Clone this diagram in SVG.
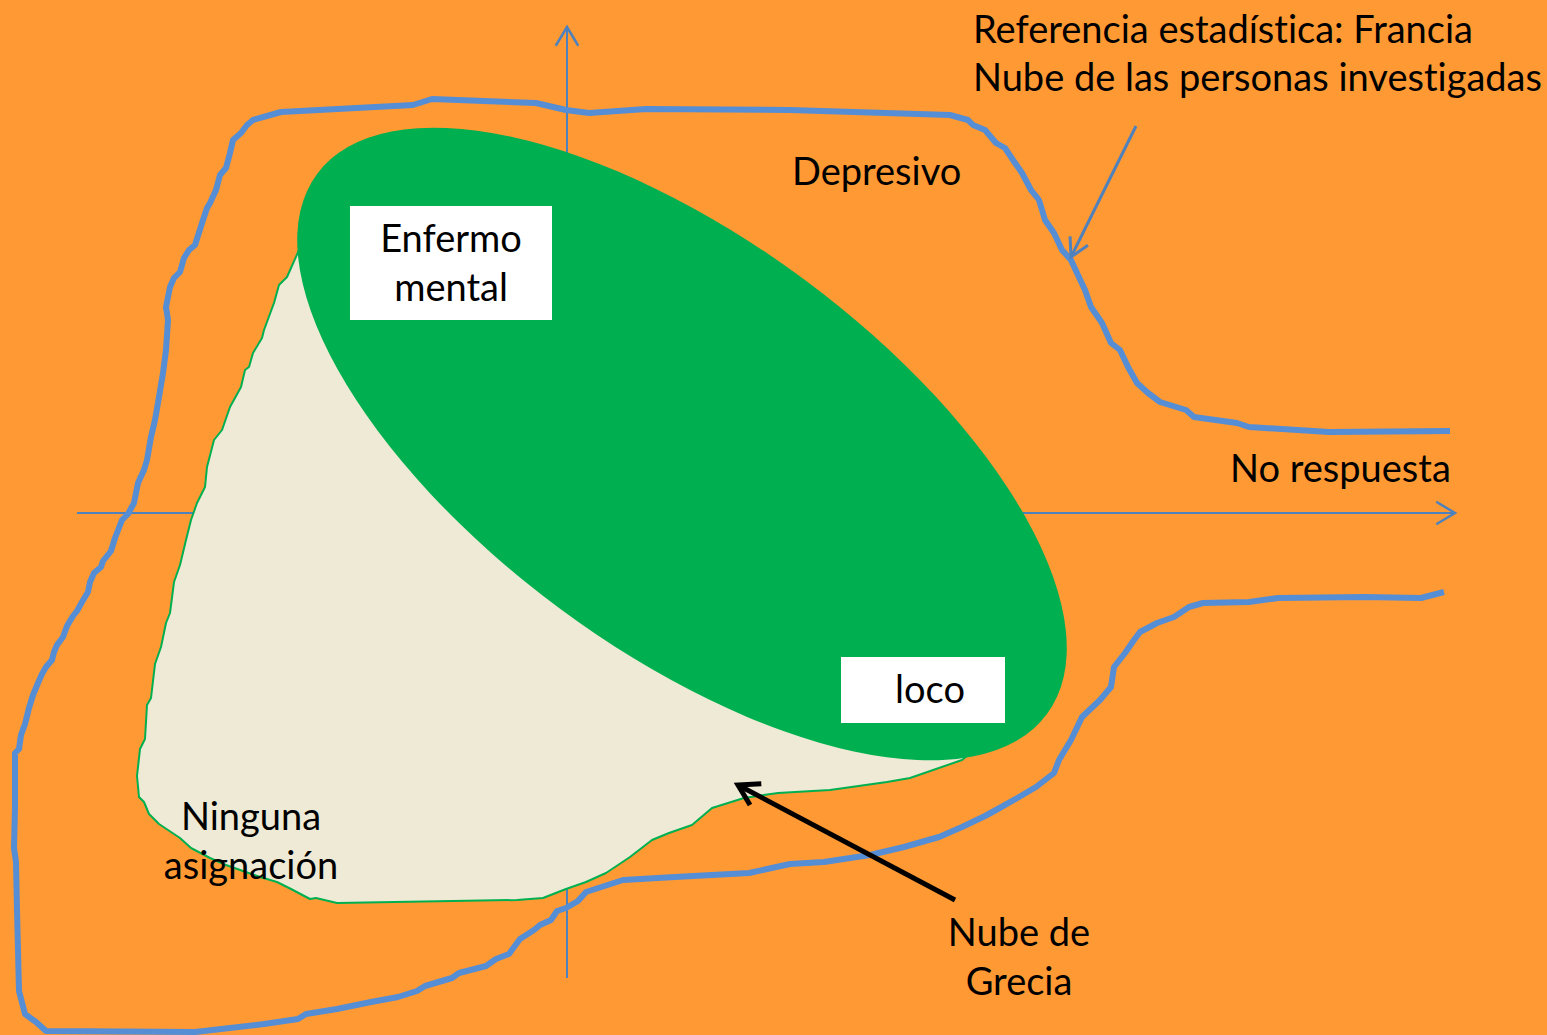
<svg xmlns="http://www.w3.org/2000/svg" width="1547" height="1035" viewBox="0 0 1547 1035">
<defs>
<style>
.lbl{font-family:Lato,"Liberation Sans",Arial,sans-serif;font-size:38px;fill:#000;font-variant-ligatures:none;font-feature-settings:"liga" 0,"clig" 0}
.mid{text-anchor:middle}
.axis{stroke:#4F81BD;stroke-width:2;fill:none}
.box{fill:#FFFFFF}
</style>
<marker id="axHead" markerUnits="userSpaceOnUse" markerWidth="30" markerHeight="30" viewBox="-20 -12 24 24" refX="0" refY="0" orient="auto" overflow="visible">
<path d="M -15,-9 L 0,0 L -15,9" fill="none" stroke="#4F81BD" stroke-width="2"/>
</marker>
<marker id="blkHead" markerUnits="userSpaceOnUse" markerWidth="40" markerHeight="40" viewBox="-30 -20 34 40" refX="0" refY="0" orient="auto" overflow="visible">
<path d="M -20,-12 L 0,0 L -20,12" fill="none" stroke="#000" stroke-width="5"/>
</marker>
<marker id="bluHead" markerUnits="userSpaceOnUse" markerWidth="40" markerHeight="40" viewBox="-30 -20 34 40" refX="0" refY="0" orient="auto" overflow="visible">
<path d="M -18,-10 L 0,0 L -18,10" fill="none" stroke="#4F81BD" stroke-width="3"/>
</marker>
</defs>
<rect x="0" y="0" width="1547" height="1035" fill="#FF9933"/>
<g id="axes">
<line class="axis" x1="77" y1="513" x2="1455" y2="513" marker-end="url(#axHead)"/>
<line class="axis" x1="567" y1="978" x2="567" y2="27" marker-end="url(#axHead)"/>
</g>
<g id="nube-grecia">
<path d="M 299,250 L 287,277 L 279,285 L 274,303 L 264,330 L 262,338 L 253,353 L 249,367 L 245,370 L 241,387 L 230,407 L 222,430 L 214,440 L 207,467 L 205,487 L 197,503 L 191,520 L 186,540 L 180,565 L 174,582 L 170,613 L 166,623 L 161,647 L 155,664 L 151,698 L 147,705 L 145,739 L 140,749 L 137,776 L 139,797 L 144,802 L 149,814 L 159,824 L 180,838 L 191,848 L 210,858 L 226,865 L 260,877 L 277,882 L 291,889 L 310,899 L 316,898 L 337,903 L 517,900 L 543,898 L 566,889 L 586,882 L 606,873 L 630,857 L 652,840 L 669,833 L 692,825 L 712,808 L 744,798 L 778,793 L 830,790 L 887,782 L 910,778 L 962,760 L 968,755 L 900,600 L 400,260 Z" fill="#EEEAD5" stroke="#00B050" stroke-width="2" stroke-linejoin="round"/>
</g>
<g id="enfermo-ellipse">
<ellipse cx="682" cy="444" rx="454" ry="205" transform="rotate(36.5 682 444)" fill="#00B050"/>
</g>
<g id="nube-francia">
<polyline fill="none" stroke="#558ED5" stroke-width="6" stroke-linejoin="round" stroke-linecap="butt" points="1450,431 1329,432 1249,427 1237,423 1194,417 1186,410 1160,402 1148,393 1137,383 1128,367 1120,350 1111,343 1102,323 1091,307 1085,290 1077,273 1071,260 1062,250 1054,233 1045,220 1039,200 1031,190 1022,173 1013,160 1005,148 996,143 985,130 973,125 968,120 950,115 790,110 646,109 589,113 566,110 536,103 432,99 413,105 281,112 253,120 247,125 241,133 233,140 230,153 226,168 220,175 216,190 210,203 207,208 203,220 195,245 189,250 184,258 180,272 174,278 170,287 166,307 168,320 166,350 163,373 159,397 155,420 151,437 147,460 144,470 138,483 134,503 128,514 122,520 115,538 111,551 103,561 101,567 94,573 90,582 88,592 82,602 77,611 73,616 67,626 63,637 57,645 54,652 52,660 46,667 42,674 38,683 33,695 29,708 25,724 21,735 19,749 15,753 15,807 14,848 16,862 17,910 19,991 25,1014 36,1022 46,1031 195,1032 264,1024 298,1019 306,1014 337,1009 371,1002 398,997 417,991 425,986 452,978 459,973 486,966 496,959 509,954 520,939 534,930 540,925 551,920 557,911 566,908 578,901 586,892 623,880 675,877 749,873 790,864 824,862 870,855 904,847 939,837 962,827 985,816 996,810 1019,797 1036,787 1054,773 1059,760 1071,740 1082,717 1100,700 1111,687 1114,667 1125,653 1134,640 1140,632 1157,623 1174,617 1189,607 1203,603 1249,602 1278,598 1364,597 1421,598 1444,592"/>
</g>
<g id="box-enfermo">
<rect class="box" x="350" y="206" width="202" height="114"/>
<text class="lbl mid" x="451" y="252">Enfermo</text>
<text class="lbl mid" x="451" y="301">mental</text>
</g>
<g id="box-loco">
<rect class="box" x="841" y="657" width="164" height="66"/>
<text class="lbl mid" x="930" y="703">loco</text>
</g>
<g id="label-depresivo">
<text class="lbl" x="792" y="185">Depresivo</text>
</g>
<g id="label-referencia">
<text class="lbl" x="973" y="43">Referencia estadística: Francia</text>
<text class="lbl" x="973" y="91">Nube de las personas investigadas</text>
</g>
<g id="label-norespuesta">
<text class="lbl" x="1230" y="482">No respuesta</text>
</g>
<g id="label-ninguna">
<text class="lbl mid" x="251" y="830">Ninguna</text>
<text class="lbl mid" x="251" y="879">asignación</text>
</g>
<g id="label-grecia">
<text class="lbl mid" x="1019" y="946">Nube de</text>
<text class="lbl mid" x="1019" y="995">Grecia</text>
</g>
<g id="connectors">
<line x1="1136" y1="126" x2="1071" y2="257" stroke="#4F81BD" stroke-width="3" marker-end="url(#bluHead)"/>
<line x1="955" y1="900" x2="738" y2="785" stroke="#000" stroke-width="5" marker-end="url(#blkHead)"/>
</g>
</svg>
